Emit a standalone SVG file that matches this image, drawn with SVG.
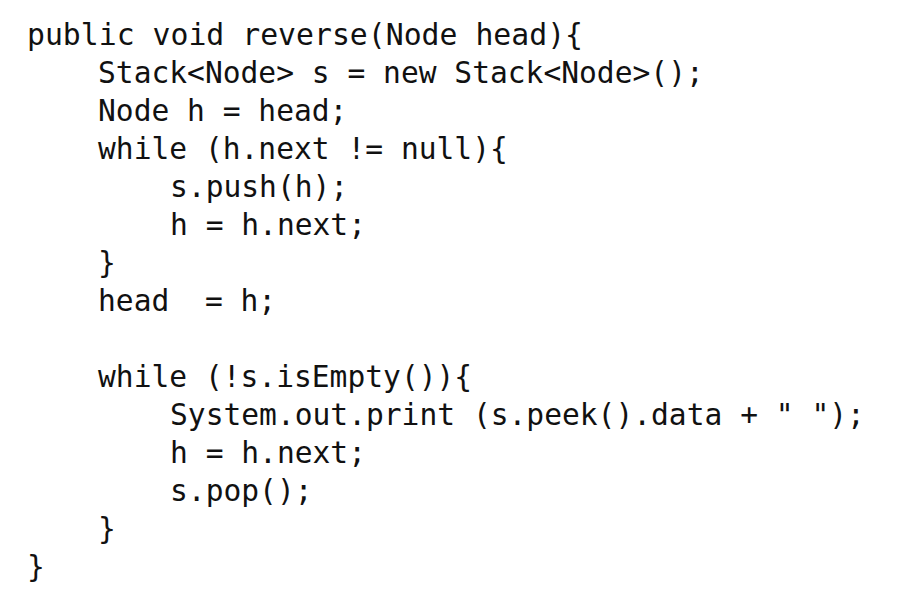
<svg xmlns="http://www.w3.org/2000/svg" width="910" height="600" viewBox="0 0 910 600">
<style>
text{font-family:"DejaVu Sans Mono","Liberation Mono",monospace;font-size:29.6px;fill:#111;white-space:pre}
</style>
<rect width="910" height="600" fill="#fff"/>
<g id="code" xml:space="preserve">
<text x="27" y="45" textLength="556" lengthAdjust="spacingAndGlyphs">public void reverse(Node head){</text>
<text x="98" y="83">Stack&lt;Node&gt; s = new Stack&lt;Node&gt;();</text>
<text x="98" y="121">Node h = head;</text>
<text x="98" y="159">while (h.next != null){</text>
<text x="170" y="197">s.push(h);</text>
<text x="170" y="235">h = h.next;</text>
<text x="98" y="273">}</text>
<text x="98" y="311">head  = h;</text>
<text x="98" y="387">while (!s.isEmpty()){</text>
<text x="170" y="425">System.out.print (s.peek().data + " ");</text>
<text x="170" y="463">h = h.next;</text>
<text x="170" y="501">s.pop();</text>
<text x="98" y="539">}</text>
<text x="27" y="577">}</text>
</g>
</svg>
